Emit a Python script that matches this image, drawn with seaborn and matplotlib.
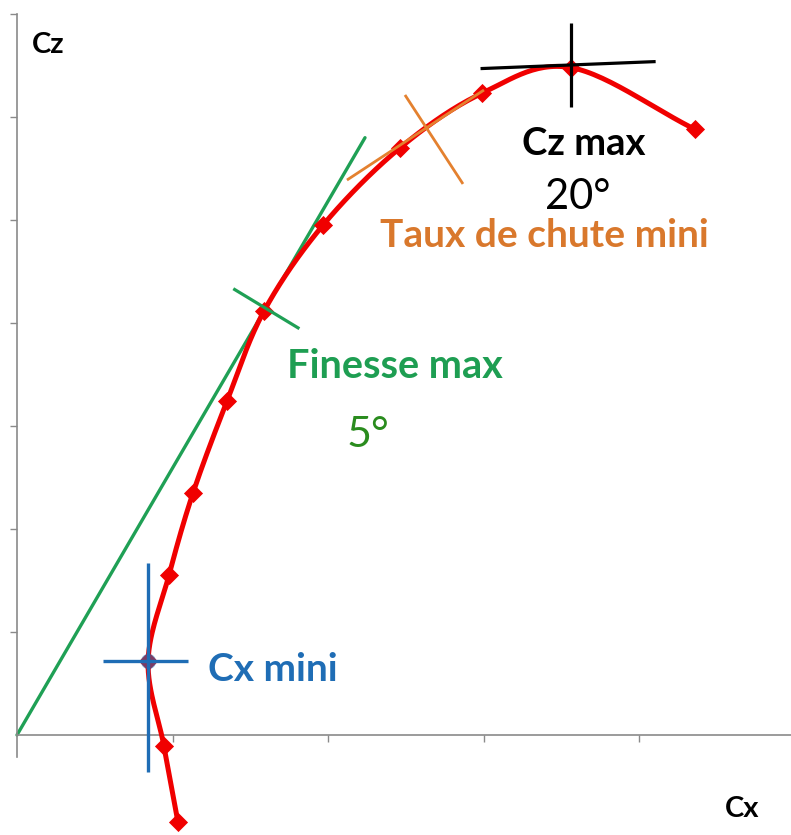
import numpy as np
import pandas as pd
import matplotlib
matplotlib.use("Agg")
import matplotlib.pyplot as plt
import seaborn as sns

# Polar curve of a wing: drag coefficient Cx vs lift coefficient Cz
cx = [1.035, 0.945, 0.843, 0.977, 1.132, 1.350, 1.590, 1.968, 2.463, 2.990, 3.560, 4.360]
cz = [-0.845, -0.107, 0.718, 1.550, 2.350, 3.240, 4.120, 4.950, 5.700, 6.230, 6.480, 5.880]

# Indices of the remarkable points on the polar
i_cx_mini = 2
i_finesse = 6
i_cz_max = 10
# Point of minimum sink rate (lies between two measured points)
taux_point = (2.643, 5.922)

sns.set_style("white")
plt.rcParams["font.family"] = ["Lato", "DejaVu Sans"]

W, H, DPI = 791, 835, 100
fig = plt.figure(figsize=(W / DPI, H / DPI), dpi=DPI)
ax = fig.add_axes([0, 0, 1, 1])

# axis scale: pixels per unit
sx, sy = 155.5, 103.0
ax.set_xlim(-17 / sx, (W - 17) / sx)
ax.set_ylim(-(H - 735) / sy, 735 / sy)


def smooth(xs, ys, n=30):
    """Catmull-Rom smoothing of the polyline (in screen-proportional space)."""
    P = np.column_stack([np.asarray(xs) * sx, np.asarray(ys) * sy])
    P = np.vstack([2 * P[0] - P[1], P, 2 * P[-1] - P[-2]])
    out = []
    for k in range(1, len(P) - 2):
        p0, p1, p2, p3 = P[k - 1], P[k], P[k + 1], P[k + 2]
        t = np.linspace(0, 1, n, endpoint=(k == len(P) - 3))[:, None]
        seg = 0.5 * ((2 * p1) + (-p0 + p2) * t + (2 * p0 - 5 * p1 + 4 * p2 - p3) * t**2
                     + (-p0 + 3 * p1 - 3 * p2 + p3) * t**3)
        out.append(seg)
    S = np.vstack(out)
    return S[:, 0] / sx, S[:, 1] / sy


red = "#F00000"
green_line = "#1FA055"
green_txt = "#1E9E52"
orange_line = "#E4812F"
orange_txt = "#D9782C"
blue = "#1F6DB5"

# green tangent from the origin through the max lift-to-drag point
fx, fz = cx[i_finesse], cz[i_finesse]
tx = np.array([0.0, 2.238])
ax.plot(tx, tx * fz / fx, color=green_line, lw=2.4, zorder=2)

# polar curve
sx_s, sz_s = smooth(cx, cz)
curve = pd.DataFrame({"Cx": sx_s, "Cz": sz_s})
sns.lineplot(data=curve, x="Cx", y="Cz", sort=False, estimator=None,
             color=red, lw=3.6, ax=ax, zorder=3)
pts = pd.DataFrame({"Cx": cx, "Cz": cz})
sns.scatterplot(data=pts, x="Cx", y="Cz", marker="D", s=95, color=red,
                edgecolor=red, linewidth=0, ax=ax, zorder=4)

# crosses marking the remarkable points
def seg(p, d1, d2, **kw):
    ax.plot([p[0] + d1[0], p[0] + d2[0]], [p[1] + d1[1], p[1] + d2[1]],
            solid_capstyle="butt", zorder=5, **kw)

p = (cx[i_cx_mini], cz[i_cx_mini])
ax.scatter([p[0]], [p[1]], s=120, color=blue, alpha=0.55, lw=0, zorder=5)
seg(p, (-0.289, 0), (0.257, 0), color=blue, lw=2.4)
seg(p, (0, 0.951), (0, -1.078), color=blue, lw=2.4)

p = (fx, fz)
seg(p, (-0.199, 0.213), (0.226, -0.175), color=green_line, lw=2.3)

p = taux_point
seg(p, (-0.521, -0.534), (0.36, 0.34), color=orange_line, lw=2.0)
seg(p, (-0.148, 0.292), (0.225, -0.572), color=orange_line, lw=2.0)

p = (cx[i_cz_max], cz[i_cz_max])
seg(p, (-0.579, -0.01), (0.547, 0.058), color="black", lw=2.3)
seg(p, (0, 0.437), (0, -0.379), color="black", lw=2.3)

# axes drawn through the origin
for s in ("top", "right"):
    ax.spines[s].set_visible(False)
axis_col = "#8A8A8A"
ax.spines["left"].set_position(("data", 0))
ax.spines["bottom"].set_position(("data", 0))
ax.spines["left"].set_bounds(-0.215, 7.0)
ax.spines["bottom"].set_bounds(0, (W - 17) / sx)
for s in ("left", "bottom"):
    ax.spines[s].set_color(axis_col)
    ax.spines[s].set_linewidth(1.2)
ax.set_xticks([1, 2, 3, 4])
ax.set_yticks([1, 2, 3, 4, 5, 6, 7])
ax.tick_params(axis="both", direction="out", length=5, width=1.0, color=axis_col,
               labelleft=False, labelbottom=False, left=True, bottom=True)
ax.set_xlabel("")
ax.set_ylabel("")

# labels
ax.text(0.096, 6.621, "Cz", fontsize=21, fontweight="bold", color="black")
ax.text(4.553, -0.796, "Cx", fontsize=21, fontweight="bold", color="black")
ax.text(3.248, 5.631, "Cz max", fontsize=27.5, fontweight="bold", color="black")
ax.text(3.395, 5.11, "20°", fontsize=30, color="black")
ax.text(2.334, 4.738, "Taux de chute mini", fontsize=28, fontweight="bold", color=orange_txt)
ax.text(1.736, 3.466, "Finesse max", fontsize=28.5, fontweight="bold", color=green_txt)
ax.text(2.122, 2.796, "5°", fontsize=31, color="#2A8C1E")
ax.text(1.228, 0.524, "Cx mini", fontsize=28, fontweight="bold", color=blue)

fig.savefig("out.png", dpi=DPI)
